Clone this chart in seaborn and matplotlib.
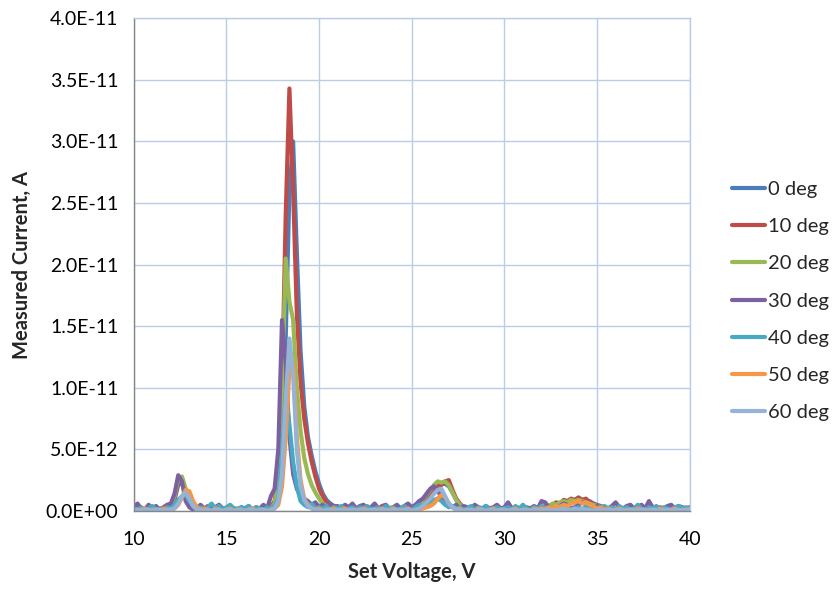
import numpy as np
import pandas as pd
import matplotlib
matplotlib.use("Agg")
import matplotlib.pyplot as plt
from matplotlib.ticker import FuncFormatter, MultipleLocator
import seaborn as sns

# Set voltage sampling grid (V), 10 .. 40 in 0.2 V steps
voltage = np.round(np.arange(10.0, 40.0001, 0.2), 1)

series_names = ["0 deg", "10 deg", "20 deg", "30 deg", "40 deg", "50 deg", "60 deg"]

# Measured current in units of 1e-12 A (rows of 10 values = 2 V each)
deg0 = [0.2,0.1,0.2,0.1,0.1,0.2,0.1,0.2,0.1,0.2,
        0.3,0.9,2.1,2.3,1.4,0.7,0.3,0.2,0.1,0.2,
        0.1,0.2,0.1,0.1,0.2,0.1,0.1,0.2,0.1,0.1,
        0.2,0.1,0.1,0.2,0.1,0.2,0.1,0.2,0.5,1.5,
        5.0,14.0,26.0,30.0,21.0,13.0,8.5,6.0,4.5,3.2,
        2.2,1.4,0.9,0.6,0.4,0.3,0.2,0.3,0.2,0.1,
        0.2,0.1,0.2,0.1,0.1,0.2,0.1,0.2,0.1,0.1,
        0.2,0.1,0.1,0.2,0.1,0.2,0.1,0.3,0.5,0.9,
        1.3,1.7,2.0,2.2,2.2,2.0,1.5,0.9,0.5,0.3,
        0.2,0.1,0.2,0.1,0.1,0.2,0.1,0.1,0.2,0.1,
        0.1,0.2,0.1,0.1,0.2,0.1,0.2,0.1,0.2,0.3,
        0.2,0.3,0.4,0.5,0.6,0.5,0.7,0.6,0.8,0.7,
        0.8,0.9,0.7,0.8,0.6,0.5,0.4,0.3,0.2,0.2,
        0.1,0.2,0.1,0.2,0.1,0.1,0.2,0.1,0.2,0.1,
        0.1,0.2,0.1,0.1,0.2,0.1,0.2,0.1,0.1,0.2,
        0.1]
deg10 = [0.1,0.2,0.1,0.2,0.1,0.1,0.2,0.1,0.2,0.1,
         0.3,1.0,2.4,2.6,1.6,0.8,0.4,0.2,0.2,0.1,
         0.2,0.1,0.1,0.2,0.1,0.2,0.1,0.1,0.2,0.1,
         0.1,0.2,0.1,0.1,0.2,0.1,0.2,0.3,0.8,3.0,
         10.0,24.0,34.3,26.0,16.0,10.5,7.5,5.5,4.0,2.8,
         1.8,1.2,0.7,0.5,0.4,0.3,0.2,0.2,0.3,0.1,
         0.2,0.1,0.1,0.2,0.1,0.2,0.1,0.1,0.2,0.1,
         0.1,0.2,0.1,0.2,0.1,0.1,0.2,0.4,0.7,1.0,
         1.4,1.8,2.2,2.1,2.4,2.5,1.7,1.0,0.6,0.3,
         0.2,0.1,0.2,0.1,0.2,0.1,0.1,0.2,0.1,0.1,
         0.2,0.1,0.1,0.2,0.1,0.2,0.1,0.2,0.2,0.3,
         0.3,0.4,0.3,0.5,0.7,0.6,0.9,0.8,1.0,0.9,
         1.1,0.9,1.0,0.7,0.6,0.4,0.3,0.2,0.2,0.1,
         0.2,0.1,0.1,0.2,0.1,0.2,0.1,0.1,0.2,0.1,
         0.2,0.1,0.1,0.2,0.1,0.1,0.2,0.1,0.2,0.1,
         0.1]
deg20 = [0.1,0.2,0.1,0.1,0.2,0.1,0.2,0.1,0.1,0.2,
         0.4,1.2,2.6,2.8,1.8,0.9,0.5,0.3,0.2,0.1,
         0.1,0.2,0.1,0.2,0.1,0.1,0.2,0.1,0.2,0.1,
         0.2,0.1,0.1,0.2,0.1,0.2,0.1,0.2,0.6,2.5,
         10.0,20.5,17.0,15.5,10.0,6.5,4.3,3.0,2.1,1.5,
         1.0,0.6,0.4,0.3,0.2,0.3,0.2,0.1,0.2,0.1,
         0.1,0.2,0.1,0.2,0.1,0.1,0.2,0.1,0.1,0.2,
         0.1,0.1,0.2,0.1,0.2,0.1,0.3,0.5,0.9,1.3,
         1.7,2.1,2.4,2.3,2.4,2.1,1.5,0.9,0.5,0.3,
         0.2,0.1,0.2,0.1,0.1,0.2,0.1,0.2,0.1,0.1,
         0.1,0.2,0.1,0.2,0.1,0.1,0.2,0.2,0.3,0.2,
         0.3,0.3,0.4,0.6,0.5,0.7,0.8,0.7,0.9,0.8,
         0.9,0.8,0.7,0.6,0.5,0.4,0.3,0.2,0.2,0.1,
         0.1,0.2,0.1,0.1,0.2,0.1,0.2,0.1,0.1,0.2,
         0.1,0.2,0.1,0.2,0.1,0.1,0.2,0.1,0.2,0.1,
         0.2]
deg30 = [0.3,0.6,0.2,0.1,0.5,0.2,0.4,0.1,0.3,0.5,
         0.6,1.4,2.9,2.4,0.8,0.3,0.1,0.2,0.5,0.2,
         0.4,0.1,0.3,0.5,0.2,0.1,0.4,0.2,0.1,0.3,
         0.2,0.4,0.1,0.3,0.2,0.5,0.2,1.2,1.8,5.0,
         15.5,12.0,6.0,3.0,1.8,1.2,1.0,0.8,0.5,0.7,
         0.3,0.5,0.2,0.6,0.3,0.4,0.2,0.5,0.3,0.6,
         0.2,0.4,0.5,0.2,0.3,0.6,0.2,0.4,0.5,0.2,
         0.3,0.5,0.2,0.4,0.6,0.3,0.5,0.8,1.0,1.4,
         1.8,2.0,1.6,1.2,0.7,0.4,0.3,0.5,0.2,0.4,
         0.3,0.2,0.5,0.3,0.2,0.4,0.2,0.3,0.5,0.2,
         0.3,0.7,0.2,0.3,0.2,0.1,0.3,0.2,0.4,0.2,
         0.8,0.7,0.3,0.2,0.3,0.4,0.6,0.5,0.2,0.3,
         0.5,0.7,0.6,0.3,0.2,0.4,0.2,0.3,0.2,0.4,
         0.7,0.3,0.2,0.4,0.5,0.2,0.3,0.5,0.2,0.8,
         0.3,0.2,0.3,0.2,0.4,0.5,0.2,0.4,0.3,0.2,
         0.3]
deg40 = [0.2,0.1,0.3,0.1,0.2,0.4,0.1,0.2,0.1,0.3,
         0.2,0.5,0.9,1.2,1.3,0.8,0.4,0.2,0.3,0.1,
         0.3,0.6,0.2,0.4,0.1,0.3,0.5,0.2,0.1,0.3,
         0.2,0.4,0.1,0.3,0.2,0.1,0.3,0.2,0.4,1.0,
         4.5,9.5,7.0,4.0,2.0,0.8,0.5,0.3,0.6,0.2,
         0.3,0.2,0.4,0.1,0.3,0.2,0.4,0.1,0.2,0.3,
         0.1,0.3,0.2,0.4,0.1,0.2,0.3,0.1,0.4,0.2,
         0.3,0.1,0.2,0.4,0.2,0.1,0.3,0.5,0.4,0.6,
         0.7,0.9,1.0,0.8,0.5,0.3,0.4,0.2,0.3,0.1,
         0.2,0.4,0.1,0.3,0.2,0.4,0.1,0.2,0.3,0.1,
         0.2,0.3,0.1,0.4,0.2,0.5,0.2,0.1,0.3,0.2,
         0.4,0.2,0.3,0.1,0.2,0.4,0.2,0.3,0.1,0.2,
         0.3,0.1,0.4,0.2,0.3,0.1,0.2,0.4,0.2,0.3,
         0.1,0.4,0.2,0.3,0.1,0.2,0.5,0.2,0.1,0.3,
         0.2,0.4,0.1,0.3,0.2,0.1,0.3,0.4,0.2,0.3,
         0.2]
deg50 = [0.1,0.0,0.1,0.2,0.0,0.1,0.1,0.0,0.2,0.1,
         0.1,0.2,0.5,1.1,1.7,1.6,0.8,0.3,0.1,0.2,
         0.1,0.0,0.2,0.1,0.0,0.1,0.2,0.0,0.1,0.1,
         0.0,0.1,0.2,0.0,0.1,0.1,0.0,0.1,0.2,0.5,
         2.0,6.0,11.5,12.0,6.0,2.5,1.0,0.5,0.2,0.1,
         0.2,0.0,0.1,0.1,0.2,0.0,0.1,0.2,0.0,0.1,
         0.1,0.0,0.2,0.1,0.0,0.1,0.1,0.2,0.0,0.1,
         0.2,0.0,0.1,0.1,0.2,0.0,0.1,0.1,0.2,0.3,
         0.4,0.6,1.0,1.3,1.1,0.6,0.3,0.1,0.2,0.0,
         0.1,0.1,0.0,0.2,0.1,0.0,0.1,0.2,0.0,0.1,
         0.1,0.0,0.1,0.2,0.0,0.1,0.1,0.0,0.2,0.1,
         0.2,0.1,0.3,0.2,0.4,0.3,0.5,0.4,0.6,0.7,
         0.8,0.6,0.7,0.5,0.4,0.2,0.3,0.1,0.2,0.0,
         0.1,0.2,0.0,0.1,0.1,0.0,0.2,0.1,0.0,0.1,
         0.1,0.0,0.2,0.1,0.0,0.1,0.2,0.0,0.1,0.1,
         0.1]
deg60 = [0.1,0.1,0.0,0.1,0.1,0.0,0.1,0.1,0.0,0.1,
         0.1,0.2,0.6,1.2,1.5,1.0,0.4,0.1,0.1,0.0,
         0.1,0.0,0.1,0.1,0.0,0.1,0.1,0.0,0.1,0.1,
         0.0,0.1,0.1,0.0,0.1,0.1,0.0,0.1,0.2,0.8,
         3.0,9.0,14.0,11.0,5.0,2.0,0.9,0.4,0.2,0.1,
         0.1,0.0,0.1,0.1,0.0,0.1,0.1,0.0,0.1,0.1,
         0.0,0.1,0.1,0.0,0.1,0.1,0.0,0.1,0.1,0.0,
         0.1,0.1,0.0,0.1,0.1,0.0,0.1,0.2,0.4,0.7,
         1.0,1.4,1.7,1.8,1.2,0.6,0.3,0.1,0.1,0.0,
         0.1,0.1,0.0,0.1,0.1,0.0,0.1,0.1,0.0,0.1,
         0.1,0.0,0.1,0.1,0.0,0.1,0.1,0.0,0.1,0.1,
         0.0,0.1,0.1,0.0,0.1,0.1,0.2,0.1,0.1,0.2,
         0.1,0.2,0.1,0.1,0.0,0.1,0.1,0.0,0.1,0.1,
         0.0,0.1,0.1,0.0,0.1,0.1,0.0,0.1,0.1,0.0,
         0.1,0.1,0.0,0.1,0.1,0.0,0.1,0.1,0.0,0.1,
         0.1]

colors = ["#4A7EBB", "#BE4B48", "#98B954", "#7D60A0", "#46AAC5", "#F79646", "#95B3D7"]

all_series = [deg0, deg10, deg20, deg30, deg40, deg50, deg60]
frames = []
for name, vals in zip(series_names, all_series):
    frames.append(pd.DataFrame({"Set Voltage, V": voltage,
                                "Measured Current, A": np.array(vals) * 1e-12,
                                "series": name}))
df = pd.concat(frames, ignore_index=True)

sns.set_style("white")
plt.rcParams["font.family"] = ["Lato", "DejaVu Sans"]

fig = plt.figure(figsize=(8.36, 5.90), dpi=100)
ax = fig.add_axes([0.160, 0.134, 0.665, 0.835])

sns.lineplot(data=df, x="Set Voltage, V", y="Measured Current, A", hue="series",
             hue_order=series_names, palette=colors, estimator=None, sort=False,
             linewidth=3.0, ax=ax, legend=True)
for ln in ax.get_lines():
    ln.set_solid_joinstyle("round")
    ln.set_solid_capstyle("round")

ax.set_xlim(10, 40)
ax.set_ylim(0, 4.0e-11)
ax.xaxis.set_major_locator(MultipleLocator(5))
ax.yaxis.set_major_locator(MultipleLocator(5e-12))
ax.yaxis.set_major_formatter(FuncFormatter(lambda v, p: f"{v:.1E}"))

grid_c = "#B9CDE5"
ax.grid(True, color=grid_c, linewidth=1.0)
ax.set_axisbelow(True)
for s in ["top", "right"]:
    ax.spines[s].set_color(grid_c)
    ax.spines[s].set_linewidth(1.0)
for s in ["left", "bottom"]:
    ax.spines[s].set_color("#868686")
    ax.spines[s].set_linewidth(1.0)

ax.tick_params(axis="both", which="major", direction="out", length=4.5, width=1,
               color="#868686", labelsize=14, labelcolor="#000000")
ax.tick_params(axis="y", pad=6.5)
ax.tick_params(axis="x", pad=10)

ax.set_xlabel("Set Voltage, V", fontsize=14.5, fontweight="bold", labelpad=10)
ax.set_ylabel("Measured Current, A", fontsize=14.5, fontweight="bold", labelpad=10)

handles, labels = ax.get_legend_handles_labels()
ax.get_legend().remove()
for h in handles:
    h.set_linewidth(3)
fig.legend(handles, labels, loc="upper left", bbox_to_anchor=(0.866, 0.707),
           frameon=False, fontsize=14.5, handlelength=1.65, handletextpad=0.15,
           labelspacing=1.0, borderaxespad=0)

fig.savefig("out.png", dpi=100)
